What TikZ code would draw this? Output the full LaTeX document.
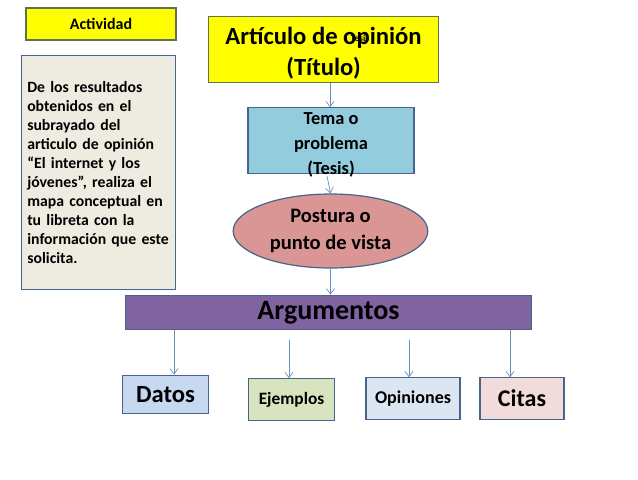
\documentclass[tikz,border=0pt]{standalone}
\usepackage{fontspec}
\setmainfont{Carlito}
\usetikzlibrary{shapes.geometric,arrows.meta}
\definecolor{yel}{RGB}{255,255,0}
\definecolor{olivebd}{RGB}{95,115,80}
\definecolor{beige}{RGB}{238,236,225}
\definecolor{bluebd}{RGB}{70,100,140}
\definecolor{temaf}{RGB}{147,205,221}
\definecolor{postf}{RGB}{218,150,148}
\definecolor{argf}{RGB}{128,100,162}
\definecolor{datosf}{RGB}{198,217,241}
\definecolor{ejemf}{RGB}{215,228,189}
\definecolor{opinf}{RGB}{220,230,242}
\definecolor{citasf}{RGB}{242,220,219}
\definecolor{arrc}{RGB}{100,140,190}
\tikzset{
  box/.style={draw=bluebd, line width=0.9pt, inner sep=0pt, align=center, font=\bfseries},
  ybox/.style={box, draw=olivebd, fill=yel},
  txt/.style={inner sep=0pt, align=center},
  conn/.style={draw=arrc, line width=0.5pt, -{Straight Barb[length=4pt,width=6pt]}},
}
\begin{document}
\begin{tikzpicture}[x=0.75pt,y=-0.75pt]
\useasboundingbox (0,0) rectangle (638,479);
\fill[white] (0,0) rectangle (638,479);
\node[ybox, minimum width=112.5pt, minimum height=24pt, font=\bfseries\fontsize{12}{14}\selectfont] (act) at (101,24) {Actividad};
\node[box, fill=beige, minimum width=116pt, minimum height=176pt] (inst) at (98.5,172.5) {};
\node[align=left, text width=112pt, inner sep=0pt, font=\bfseries\fontsize{11.8}{14.25}\selectfont, anchor=west] (instt) at (27,173) {De los resultados\\obtenidos en el\\subrayado del\\articulo de opinión\\“El internet y los\\jóvenes”, realiza el\\mapa conceptual en\\tu libreta con la\\información que este\\solicita.};
\node[ybox, minimum width=173pt, minimum height=49pt] (title) at (323.5,49.5) {};
\node[txt, font=\bfseries\fontsize{18.5}{23}\selectfont] (titlet) at (323.5,53) {Artículo de opinión\\(Título)};
\node[txt, font=\bfseries\fontsize{7}{8}\selectfont] (tesis) at (360,38) {Tesis};
\node[box, fill=temaf, minimum width=124.5pt, minimum height=49pt] (tema) at (331,140.5) {};
\node[box, ellipse, fill=postf, minimum width=146pt, minimum height=55.5pt, font=\bfseries\fontsize{15.4}{20}\selectfont] (post) at (330.5,231) {Postura o\\punto de vista};
\coordinate (tm0) at (327,176);
\draw[conn] (tm0) -- (post.north);
\node[txt, font=\bfseries\fontsize{13.8}{18.5}\selectfont] (temat) at (331,145) {Tema o\\problema\\(Tesis)};
\node[box, fill=argf, minimum width=305pt, minimum height=26pt, font=\bfseries\fontsize{21}{24}\selectfont] (arg) at (328.5,312.5) {Argumentos};
\node[box, fill=datosf, minimum width=65pt, minimum height=29pt, font=\bfseries\fontsize{18.5}{21}\selectfont] (datos) at (165.5,394.5) {Datos};
\node[box, fill=ejemf, minimum width=65pt, minimum height=31pt, font=\bfseries\fontsize{13}{15}\selectfont] (ejem) at (291.5,399.5) {Ejemplos};
\node[box, fill=opinf, minimum width=70.5pt, minimum height=31pt, font=\bfseries\fontsize{13.5}{15}\selectfont] (opin) at (413,398.5) {Opiniones};
\node[box, fill=citasf, minimum width=63pt, minimum height=31pt, font=\bfseries\fontsize{18}{21}\selectfont] (citas) at (522,398.5) {Citas};
\coordinate (ej0) at (289,340);
\coordinate (op0) at (409,340);
\draw[conn] (title.south -| 330,0) -- (tema.north -| 330,0);
\draw[conn] (post.south) -- (arg.north -| post.south);
\draw[conn] (arg.south -| 174,0) -- (datos.north -| 174,0);
\draw[conn] (ej0) -- (ejem.north -| ej0);
\draw[conn] (op0) -- (opin.north -| op0);
\draw[conn] (arg.south -| 510,0) -- (citas.north -| 510,0);
\end{tikzpicture}
\end{document}
